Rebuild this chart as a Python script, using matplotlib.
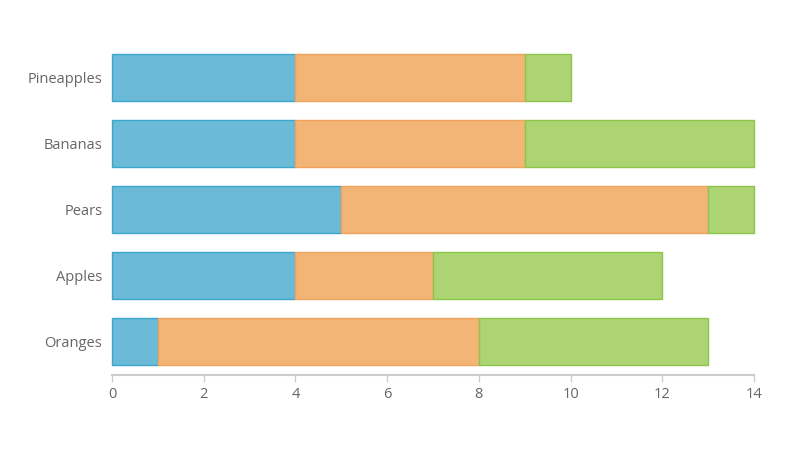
import matplotlib.pyplot as plt
import numpy as np

plt.rcParams['font.family'] = ['Open Sans', 'DejaVu Sans']

fruits = ['Oranges', 'Apples', 'Pears', 'Bananas', 'Pineapples']
series_a = [1, 4, 5, 4, 4]
series_b = [7, 3, 8, 5, 5]
series_c = [5, 5, 1, 5, 1]

fills = ['#6bbbd8', '#f2b575', '#acd472']
edges = ['#3ea6cd', '#eea45c', '#8dc54a']

fig = plt.figure(figsize=(8, 4.5), dpi=100)
ax = fig.add_axes([0.14, 0.1667, 0.8025, 0.7343])

y = np.arange(len(fruits))
left = np.zeros(len(fruits))
for vals, fc, ec in zip([series_a, series_b, series_c], fills, edges):
    bars = ax.barh(y, vals, left=left, height=0.71, color=fc, edgecolor=ec, linewidth=1)
    for b in bars:
        b.set_clip_on(False)
    left += np.array(vals)

ax.set_xlim(0, 14)
ax.set_ylim(-0.5, 4.5)
ax.set_xticks(range(0, 15, 2))
ax.set_yticks(y)
ax.set_yticklabels(fruits)

for s in ['top', 'right', 'left']:
    ax.spines[s].set_visible(False)
ax.spines['bottom'].set_color('#cccccc')
ax.spines['bottom'].set_linewidth(1.5)
ax.tick_params(axis='x', colors='#cccccc', labelcolor='#666666', labelsize=10.5, length=5, width=1)
ax.tick_params(axis='y', length=0, labelcolor='#666666', labelsize=10.5, pad=7)

fig.savefig('out.png')
